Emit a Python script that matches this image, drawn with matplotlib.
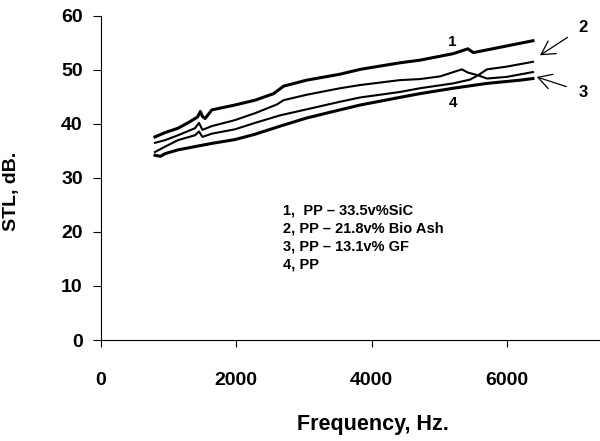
"""Sound transmission loss vs frequency for four PP composites."""
import matplotlib
matplotlib.use("Agg")
import matplotlib.pyplot as plt

plt.rcParams["font.family"] = ["Liberation Sans", "DejaVu Sans"]
plt.rcParams["font.weight"] = "bold"

# STL (dB), frequency in Hz
freq1 = [800, 950, 1140, 1300, 1430, 1470, 1500, 1540, 1640, 1980, 2280, 2550, 2700,
         3040, 3530, 3830, 4410, 4710, 5200, 5420, 5500, 5940, 6380]
stl1 = [37.6, 38.4, 39.2, 40.3, 41.3, 42.3, 41.4, 41.0, 42.6, 43.5, 44.4, 45.6, 47.0,
        48.1, 49.2, 50.1, 51.3, 51.8, 53.0, 53.9, 53.2, 54.3, 55.4]

freq2 = [800, 950, 1140, 1390, 1450, 1500, 1640, 1980, 2280, 2600, 2700, 3040, 3530,
         3830, 4410, 4710, 5010, 5330, 5420, 5570, 5700, 5990, 6380]
stl2 = [36.5, 37.0, 37.9, 39.2, 40.2, 38.9, 39.6, 40.7, 42.0, 43.6, 44.4, 45.4, 46.6,
        47.2, 48.1, 48.3, 48.8, 50.1, 49.5, 49.0, 50.1, 50.6, 51.5]

freq3 = [800, 950, 1140, 1390, 1450, 1500, 1640, 1980, 2280, 2650, 3040, 3530, 3830,
         4410, 4710, 5200, 5450, 5570, 5700, 5990, 6380]
stl3 = [34.8, 35.8, 37.0, 37.9, 38.6, 37.6, 38.2, 39.0, 40.2, 41.6, 42.7, 44.1, 44.9,
        45.9, 46.6, 47.5, 48.2, 49.0, 48.4, 48.7, 49.6]

freq4 = [800, 880, 950, 1140, 1390, 1640, 1980, 2280, 2650, 3040, 3530, 3830, 4410,
         4710, 5200, 5700, 6190, 6380]
stl4 = [34.2, 34.0, 34.5, 35.2, 35.8, 36.4, 37.1, 38.1, 39.6, 41.1, 42.6, 43.5, 44.9,
        45.6, 46.6, 47.5, 48.1, 48.4]

legend_lines = ["1,  PP \u2013 33.5v%SiC", "2, PP \u2013 21.8v% Bio Ash",
                "3, PP \u2013 13.1v% GF", "4, PP"]

fig = plt.figure(figsize=(6, 4.41), dpi=100)
ax = fig.add_axes([0.168, 0.229, 0.832, 0.735])

ax.plot(freq1, stl1, color="black", linewidth=2.2)
ax.plot(freq2, stl2, color="black", linewidth=1.5)
ax.plot(freq3, stl3, color="black", linewidth=1.5)
ax.plot(freq4, stl4, color="black", linewidth=2.2)

ax.set_xlim(0, 7370)
ax.set_ylim(0, 60)
ax.set_xticks([0, 2000, 4000, 6000])
ax.set_yticks(range(0, 61, 10))
for s in ("top", "right"):
    ax.spines[s].set_visible(False)
for s in ("left", "bottom"):
    ax.spines[s].set_linewidth(0.8)
ax.tick_params(axis="x", direction="out", length=5, width=0.8, pad=18, labelsize=14)
ax.tick_params(axis="y", direction="out", length=6, width=0.8, pad=7, labelsize=14)
for lbl in ax.get_xticklabels() + ax.get_yticklabels():
    lbl.set_fontweight("bold")

ax.set_xlabel("Frequency, Hz.", fontsize=15.5, fontweight="bold")
ax.xaxis.set_label_coords(0.546, -0.228)
ax.set_ylabel("STL, dB.", fontsize=14, fontweight="bold")
ax.yaxis.set_label_coords(-0.162, 0.46)

# curve numbers and arrows
ax.text(5190, 55.2, "1", fontsize=11, ha="center", va="center")
ax.text(5200, 43.8, "4", fontsize=11, ha="center", va="center")
ax.annotate("2", xy=(6484, 52.7), xytext=(7120, 57.9), fontsize=12,
            ha="center", va="center", annotation_clip=False,
            arrowprops=dict(arrowstyle="->,head_length=0.8,head_width=0.45",
                            color="black", lw=0.9, shrinkA=7, shrinkB=0))
ax.annotate("3", xy=(6435, 48.7), xytext=(7118, 45.9), fontsize=12,
            ha="center", va="center", annotation_clip=False,
            arrowprops=dict(arrowstyle="->,head_length=0.8,head_width=0.45",
                            color="black", lw=0.9, shrinkA=7, shrinkB=0))

for i, line in enumerate(legend_lines):
    ax.text(2686, 23.9 - i * 3.3, line, fontsize=10.5, ha="left", va="center")

fig.savefig("out.png", dpi=100, facecolor="white")
